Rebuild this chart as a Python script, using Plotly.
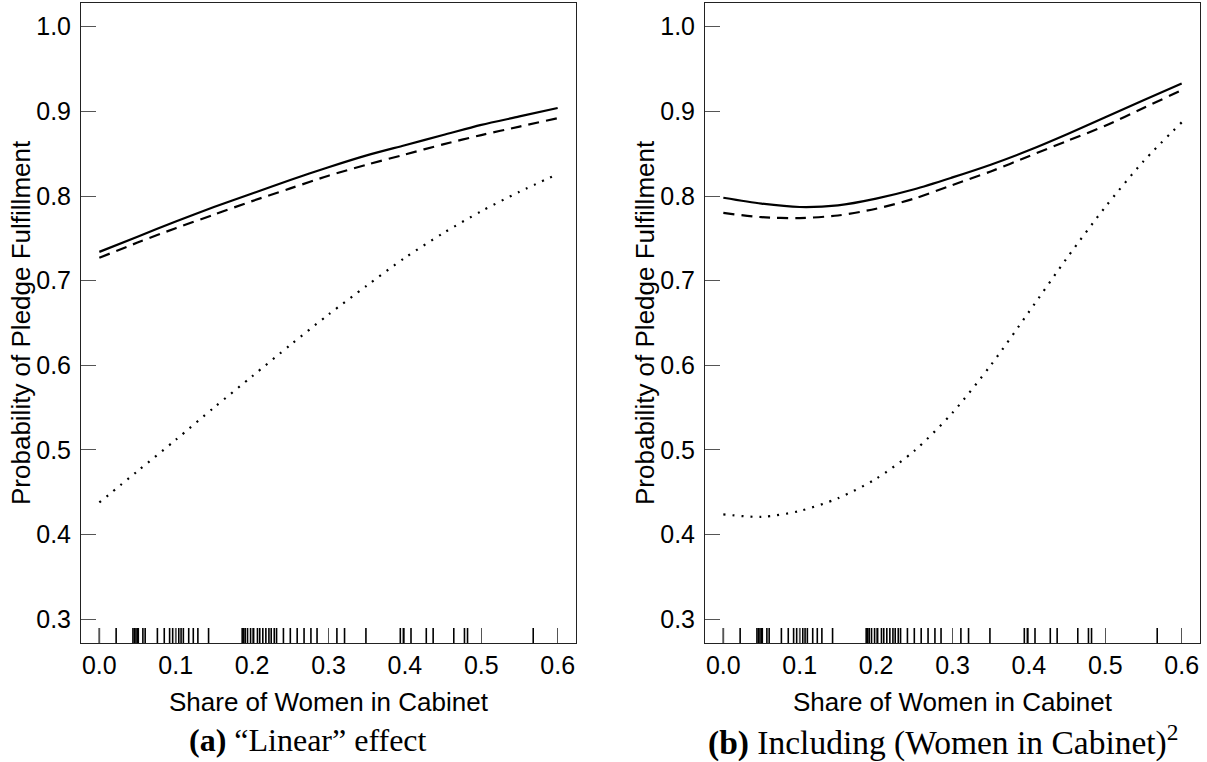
import plotly.graph_objects as go

# ---------------- data ----------------
share_grid = [0.00, 0.05, 0.10, 0.15, 0.20, 0.25, 0.30, 0.35, 0.40, 0.45, 0.50, 0.55, 0.60]

# Panel (a): "Linear" effect
lin_solid  = [0.734, 0.752, 0.770, 0.787, 0.803, 0.819, 0.834, 0.848, 0.860, 0.872, 0.884, 0.894, 0.904]
lin_dashed = [0.727, 0.745, 0.762, 0.778, 0.794, 0.809, 0.824, 0.837, 0.849, 0.861, 0.872, 0.882, 0.892]
lin_dotted = [0.438, 0.475, 0.512, 0.550, 0.587, 0.624, 0.660, 0.694, 0.727, 0.756, 0.782, 0.805, 0.826]

# Panel (b): including squared term
sq_solid  = [0.798, 0.791, 0.787, 0.789, 0.797, 0.808, 0.822, 0.837, 0.854, 0.873, 0.893, 0.913, 0.933]
sq_dashed = [0.780, 0.775, 0.774, 0.777, 0.785, 0.797, 0.813, 0.829, 0.847, 0.865, 0.883, 0.904, 0.925]
sq_dotted = [0.424, 0.421, 0.428, 0.443, 0.466, 0.499, 0.544, 0.600, 0.663, 0.727, 0.787, 0.841, 0.887]

# Observed shares of women in cabinet (rug)
rug_values = [0.000, 0.022, 0.044, 0.046, 0.048, 0.050, 0.051, 0.057, 0.060, 0.076, 0.085,
              0.092, 0.096, 0.100, 0.104, 0.107, 0.110, 0.117, 0.123, 0.129, 0.143, 0.187,
              0.189, 0.191, 0.194, 0.198, 0.202, 0.207, 0.210, 0.214, 0.218, 0.222, 0.225,
              0.229, 0.232, 0.241, 0.250, 0.259, 0.268, 0.277, 0.285, 0.311, 0.321, 0.349,
              0.394, 0.398, 0.408, 0.428, 0.437, 0.464, 0.478, 0.482, 0.568]

x_ticks = [0.0, 0.1, 0.2, 0.3, 0.4, 0.5, 0.6]
x_ticktext = ["0.0", "0.1", "0.2", "0.3", "0.4", "0.5", "0.6"]
y_ticks = [0.3, 0.4, 0.5, 0.6, 0.7, 0.8, 0.9, 1.0]
y_ticktext = ["0.3", "0.4", "0.5", "0.6", "0.7", "0.8", "0.9", "1.0"]

x_title = "Share of Women in Cabinet"
y_title = "Probability of Pledge Fulfillment"
caption_a = "<b>(a)</b> \u201cLinear\u201d effect"
caption_b = "<b>(b)</b> Including (Women in Cabinet)<sup>2</sup>"

# ---------------- layout constants ----------------
W, H = 1207, 762
X_RANGE = [-0.024, 0.624]
Y_RANGE = [0.272, 1.028]
SANS = "Liberation Sans, Arial, Helvetica, sans-serif"
SERIF = "Liberation Serif, Times New Roman, serif"
FS_TICK = 25
FS_TITLE = 26

PLOT_TOP, PLOT_BOTTOM = 3, 643
px_per_unit_y = (PLOT_BOTTOM - PLOT_TOP) / (Y_RANGE[1] - Y_RANGE[0])
rug_len = 15 / px_per_unit_y  # 15 px tall rug ticks, in data units


def rug_xy(vals):
    xs, ys = [], []
    for v in vals:
        xs += [v, v, None]
        ys += [Y_RANGE[0], Y_RANGE[0] + rug_len, None]
    return xs, ys


fig = go.Figure()

line_w = 2.2
styles = ["solid", "11px,7px", "2px,7px"]

for xa, ya, series in [("x", "y", [lin_solid, lin_dashed, lin_dotted]),
                       ("x2", "y2", [sq_solid, sq_dashed, sq_dotted])]:
    for dash, ys in zip(styles, series):
        fig.add_trace(go.Scatter(
            x=share_grid, y=ys, mode="lines", xaxis=xa, yaxis=ya,
            line=dict(color="black", width=line_w, dash=dash, shape="spline", smoothing=0.8),
            showlegend=False, hoverinfo="skip"))
    rx, ry = rug_xy(rug_values)
    fig.add_trace(go.Scatter(x=rx, y=ry, mode="lines", xaxis=xa, yaxis=ya,
                             line=dict(color="black", width=1.6),
                             showlegend=False, hoverinfo="skip"))

ydom = [1 - PLOT_BOTTOM / H, 1 - PLOT_TOP / H]
common_x = dict(range=X_RANGE, tickvals=x_ticks, ticktext=x_ticktext, ticks="inside",
                ticklen=15, tickwidth=1, tickcolor="#555", showline=True, linecolor="#222",
                linewidth=1, mirror=True, showgrid=False, zeroline=False,
                tickfont=dict(family=SANS, size=FS_TICK, color="black"), fixedrange=True)
common_y = dict(range=Y_RANGE, tickvals=y_ticks, ticktext=y_ticktext, ticks="inside",
                ticklen=15, tickwidth=1, tickcolor="#555", showline=True, linecolor="#222",
                linewidth=1, mirror=True, showgrid=False, zeroline=False,
                tickfont=dict(family=SANS, size=FS_TICK, color="black"), fixedrange=True,
                ticklabelstandoff=4, domain=ydom)

fig.update_layout(
    width=W, height=H, margin=dict(l=0, r=0, t=0, b=0),
    paper_bgcolor="white", plot_bgcolor="white",
    xaxis=dict(domain=[81 / W, 576 / W], anchor="y", **common_x),
    yaxis=dict(anchor="x", **common_y),
    xaxis2=dict(domain=[705 / W, 1200 / W], anchor="y2", **common_x),
    yaxis2=dict(anchor="x2", **common_y),
)

ann = []
for cx, lx in [(328.5, 21), (952.5, 645)]:
    ann.append(dict(x=cx / W, y=1 - 702 / H, xref="paper", yref="paper", text=x_title,
                    showarrow=False, font=dict(family=SANS, size=FS_TITLE, color="black"),
                    xanchor="center", yanchor="middle"))
    ann.append(dict(x=lx / W, y=1 - 323 / H, xref="paper", yref="paper", text=y_title,
                    textangle=-90, showarrow=False,
                    font=dict(family=SANS, size=FS_TITLE, color="black"),
                    xanchor="center", yanchor="middle"))
ann.append(dict(x=307.5 / W, y=1 - 740 / H, xref="paper", yref="paper", text=caption_a,
                showarrow=False, font=dict(family=SERIF, size=32, color="black"),
                xanchor="center", yanchor="middle"))
ann.append(dict(x=943 / W, y=1 - 740 / H, xref="paper", yref="paper", text=caption_b,
                showarrow=False, font=dict(family=SERIF, size=33.5, color="black"),
                xanchor="center", yanchor="middle"))
fig.update_layout(annotations=ann)

fig.write_html("out.html", config={"displayModeBar": False},
               post_script="document.body.style.margin='0';document.body.style.overflow='hidden';")
